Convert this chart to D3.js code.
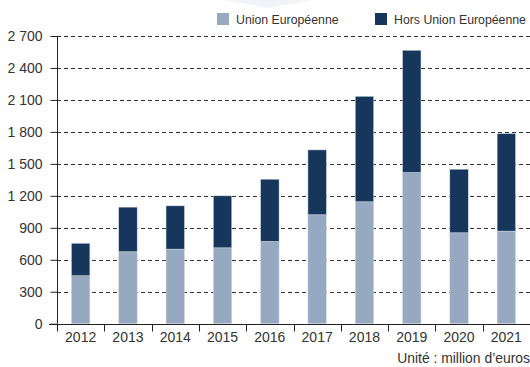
<!DOCTYPE html>
<html>
<head>
<meta charset="utf-8">
<script src="https://cdn.jsdelivr.net/npm/d3@7"></script>
<style>
  html, body { margin: 0; padding: 0; background: #fff; }
  svg { display: block; font-family: "Liberation Sans", Arial, sans-serif; }
</style>
</head>
<body>
<svg id="chart" width="530" height="367"></svg>
<script>
// Exports by destination, million euros
const years = ["2012", "2013", "2014", "2015", "2016", "2017", "2018", "2019", "2020", "2021"];
const unionEuropeenne = [450, 675, 700, 712, 772, 1022, 1144, 1419, 853, 869];
const horsUnion = [305, 419, 406, 488, 584, 609, 990, 1147, 597, 915];
const yTicks = [0, 300, 600, 900, 1200, 1500, 1800, 2100, 2400, 2700];
const seriesNames = ["Union Européenne", "Hors Union Européenne"];
const seriesColors = ["#97a9c0", "#16375b"];

const svg = d3.select("#chart");
const margin = { top: 36, right: 0, bottom: 43, left: 57 };
const W = 530, H = 367;
const textColor = "#333";

// faint decorative swoosh at the top
svg.append("path")
  .attr("d", "M222,0 Q250,4 268,8 Q290,4 312,0 Z")
  .attr("fill", "#f1f3f9");

const x = d3.scaleBand().domain(years).range([margin.left, W - margin.right]).paddingInner(0.61).paddingOuter(0.305);
const xb = d3.scaleBand().domain(years).range([margin.left, W - margin.right]);
const y = d3.scaleLinear().domain([0, 2700]).range([H - margin.bottom - 0.3, margin.top]);

const fmt = v => d3.format(",")(v).replace(/,/g, " ");

// dashed gridlines
svg.append("g").selectAll("line").data(yTicks.filter(t => t > 0)).join("line")
  .attr("x1", margin.left).attr("x2", W)
  .attr("y1", d => Math.round(y(d)) + 0.5).attr("y2", d => Math.round(y(d)) + 0.5)
  .attr("stroke", "#333").attr("stroke-width", 1).attr("stroke-dasharray", "4,3");

// stacked bars
const rows = years.map((yr, i) => ({ year: yr, ue: unionEuropeenne[i], hors: horsUnion[i] }));
const stack = d3.stack().keys(["ue", "hors"])(rows);
svg.append("g").selectAll("g").data(stack).join("g")
  .attr("fill", (d, i) => seriesColors[i])
  .selectAll("rect").data(d => d).join("rect")
  .attr("x", d => x(d.data.year))
  .attr("width", x.bandwidth())
  .attr("y", d => y(d[1]))
  .attr("height", d => y(d[0]) - y(d[1]))
  .attr("stroke", "#d5dde8").attr("stroke-width", 0.5);

// y axis
const yAxis = d3.axisLeft(y).tickValues(yTicks).tickFormat(fmt).tickSize(7).tickPadding(8);
const gy = svg.append("g").attr("transform", `translate(${margin.left + 0.5},0)`).call(yAxis);
gy.select(".domain").attr("stroke", "#222").attr("d", `M0,${y(2700)}V${y(0)}`);
gy.selectAll(".tick line").attr("stroke", "#222");
gy.selectAll("text").attr("font-size", 14).attr("fill", textColor).attr("font-family", null);

// x axis
const base = Math.round(y(0)) + 0.5;
svg.append("line").attr("x1", 49).attr("x2", W).attr("y1", base).attr("y2", base).attr("stroke", "#222");
svg.append("g").selectAll("line").data(years).join("line")
  .attr("x1", d => Math.round(xb(d)) + 0.5).attr("x2", d => Math.round(xb(d)) + 0.5)
  .attr("y1", base).attr("y2", base + 7).attr("stroke", "#222");
svg.append("g").selectAll("text").data(years).join("text")
  .attr("x", d => x(d) + x.bandwidth() / 2).attr("y", 342)
  .attr("text-anchor", "middle").attr("font-size", 14).attr("fill", textColor)
  .text(d => d);

// unit note
svg.append("text").attr("x", 530).attr("y", 363).attr("text-anchor", "end")
  .attr("font-size", 13.9).attr("fill", textColor).text("Unité : million d’euros");

// legend
const legendX = [217, 375];
const lg = svg.append("g").selectAll("g").data(seriesNames).join("g")
  .attr("transform", (d, i) => `translate(${legendX[i]},13)`);
lg.append("rect").attr("width", 12).attr("height", 12).attr("fill", (d, i) => seriesColors[i]);
lg.append("text").attr("x", 19).attr("y", 11).attr("font-size", 12.3).attr("fill", textColor).text(d => d);
</script>
</body>
</html>
